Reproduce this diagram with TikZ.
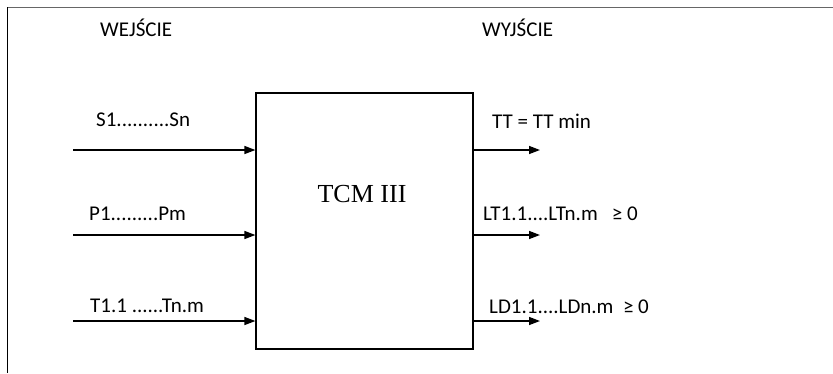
\documentclass[tikz,border=0pt]{standalone}
\usepackage{fontspec}
\setmainfont{Carlito}
\newfontfamily\boxfont{Liberation Serif}
\usetikzlibrary{arrows.meta}

\tikzset{
  lbl/.style={anchor=west, inner sep=0pt, font=\fontsize{21}{23}\selectfont},
  flow/.style={line width=1.4pt, -{Triangle[length=11pt,width=8pt]}},
  block/.style={draw, line width=1.2pt, minimum width=217pt, minimum height=256pt, inner sep=0pt}
}

\begin{document}
\begin{tikzpicture}[x=1pt,y=-1pt]
\useasboundingbox (0,0) rectangle (833,373);
% Frame
\draw[line width=1pt, black!60] (7,7) -- (833,7);
\draw[line width=1pt] (7,7) -- (7,373);

% Block
\node[block] (tcm) at (364.5,221) {};
\node[font=\boxfont\fontsize{26}{28}\selectfont, inner sep=0pt] (tcmlabel) at (362,194) {TCM III};

% Headings
\node[lbl] (wej) at (100,28) {WEJŚCIE};
\node[lbl] (wyj) at (482,28) {WYJŚCIE};

% Inputs
\coordinate (s) at (73,150);
\coordinate (p) at (73,235);
\coordinate (t) at (73,321);
\draw[flow] (s) -- (s -| tcm.west);
\draw[flow] (p) -- (p -| tcm.west);
\draw[flow] (t) -- (t -| tcm.west);
\node[lbl] (slbl) at (96,120) {S1..........Sn};
\node[lbl] (plbl) at (89,214) {P1.........Pm};
\node[lbl] (tlbl) at (90,306) {T1.1 ......Tn.m};

% Outputs
\coordinate (tt) at (540,150);
\coordinate (lt) at (540,235);
\coordinate (ld) at (540,321);
\draw[flow] (tt -| tcm.east) -- (tt);
\draw[flow] (lt -| tcm.east) -- (lt);
\draw[flow] (ld -| tcm.east) -- (ld);
\node[lbl] (ttlbl) at (492,121) {TT = TT min};
\node[lbl] (ltlbl) at (483,214) {LT1.1....LTn.m\ \ \ ≥ 0};
\node[lbl] (ldlbl) at (489,307) {LD1.1....LDn.m\ \ ≥ 0};

\end{tikzpicture}
\end{document}
